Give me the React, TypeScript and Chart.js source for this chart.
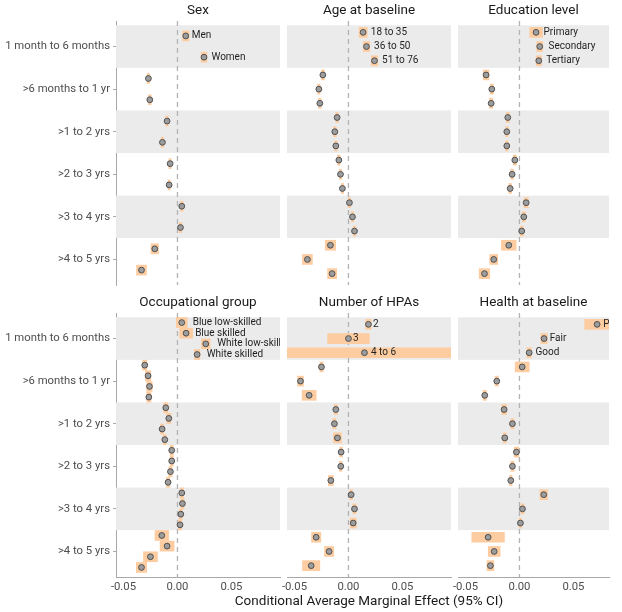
import React, { useEffect, useRef } from 'react';
import { Chart, registerables } from 'chart.js';

Chart.register(...registerables);
Chart.defaults.font.family = 'Roboto';

// Follow-up periods (rows of every facet, top to bottom)
const periods = [
  '1 month to 6 months',
  '>6 months to 1 yr',
  '>1 to 2 yrs',
  '>2 to 3 yrs',
  '>3 to 4 yrs',
  '>4 to 5 yrs',
];
const xTickValues = [-0.05, 0, 0.05];

// Sex
const sexGroups = ['Men', 'Women'];
const sexEstimates = [
  [0.0077, -0.0269, -0.0096, -0.0068, 0.004, -0.021],
  [0.0246, -0.0256, -0.0139, -0.0077, 0.0028, -0.0333],
];
const sexHalfWidths = [
  [0.003, 0.0012, 0.0012, 0.001, 0.0012, 0.0035],
  [0.0027, 0.0012, 0.0012, 0.001, 0.0012, 0.0046],
];

// Age at baseline
const ageGroups = ['18 to 35', '36 to 50', '51 to 76'];
const ageEstimates = [
  [0.0136, -0.0237, -0.0105, -0.0089, 0.0009, -0.0167],
  [0.0167, -0.0274, -0.0126, -0.0074, 0.0037, -0.038],
  [0.0241, -0.0265, -0.0117, -0.0056, 0.0056, -0.0151],
];
const ageHalfWidths = [
  [0.0037, 0.0015, 0.0012, 0.0012, 0.0012, 0.0048],
  [0.003, 0.0012, 0.0012, 0.001, 0.0012, 0.0046],
  [0.003, 0.0012, 0.0012, 0.001, 0.0012, 0.0042],
];

// Education level
const eduGroups = ['Primary', 'Secondary', 'Tertiary'];
const eduEstimates = [
  [0.0154, -0.0309, -0.0108, -0.0043, 0.0062, -0.0099],
  [0.0188, -0.0256, -0.0117, -0.0068, 0.004, -0.0238],
  [0.0179, -0.0262, -0.0117, -0.0086, 0.0021, -0.0324],
];
const eduHalfWidths = [
  [0.0059, 0.0026, 0.0015, 0.0015, 0.002, 0.0068],
  [0.0028, 0.0015, 0.0012, 0.0012, 0.0015, 0.0037],
  [0.0025, 0.0015, 0.0012, 0.0012, 0.0015, 0.0049],
];

// Occupational group
const occGroups = ['Blue low-skilled', 'Blue skilled', 'White low-skilled', 'White skilled'];
const occEstimates = [
  [0.004, -0.0303, -0.0108, -0.0053, 0.004, -0.0145],
  [0.008, -0.0272, -0.008, -0.0053, 0.0046, -0.0096],
  [0.0262, -0.0259, -0.0142, -0.0065, 0.0031, -0.025],
  [0.0182, -0.0265, -0.0117, -0.0087, 0.0024, -0.0333],
];
const occHalfWidths = [
  [0.0051, 0.002, 0.002, 0.0015, 0.0015, 0.0063],
  [0.006, 0.0025, 0.002, 0.0015, 0.0015, 0.0065],
  [0.004, 0.0025, 0.0015, 0.0015, 0.0015, 0.0065],
  [0.0026, 0.002, 0.0015, 0.0015, 0.0015, 0.0048],
];

// Number of HPAs
const hpaGroups = ['2', '3', '4 to 6'];
const hpaEstimates = [
  [0.0185, -0.025, -0.0117, -0.0068, 0.0025, -0.0299],
  [0.0, -0.0444, -0.013, -0.0071, 0.0056, -0.0179],
  [0.0148, -0.0364, -0.0102, -0.0163, 0.0044, -0.0345],
];
const hpaHalfWidths = [
  [0.0025, 0.0015, 0.0015, 0.0012, 0.0012, 0.0043],
  [0.0193, 0.0027, 0.0015, 0.0012, 0.0015, 0.0043],
  [0.11, 0.0065, 0.0037, 0.0023, 0.0028, 0.008],
];

// Health at baseline
const healthGroups = ['Poor', 'Fair', 'Good'];
const healthEstimates = [
  [0.0719, 0.0025, -0.0142, -0.0028, 0.0225, -0.029],
  [0.0228, -0.021, -0.0065, -0.0065, 0.0028, -0.0234],
  [0.009, -0.0321, -0.0136, -0.008, 0.0009, -0.0269],
];
const healthHalfWidths = [
  [0.0115, 0.0065, 0.0023, 0.0022, 0.0035, 0.0151],
  [0.003, 0.0015, 0.0015, 0.0015, 0.0015, 0.0055],
  [0.0022, 0.0015, 0.0015, 0.0012, 0.0012, 0.0032],
];

const facets = [
  { title: 'Sex', groups: sexGroups, estimates: sexEstimates, halfWidths: sexHalfWidths },
  { title: 'Age at baseline', groups: ageGroups, estimates: ageEstimates, halfWidths: ageHalfWidths },
  { title: 'Education level', groups: eduGroups, estimates: eduEstimates, halfWidths: eduHalfWidths },
  { title: 'Occupational group', groups: occGroups, estimates: occEstimates, halfWidths: occHalfWidths },
  { title: 'Number of HPAs', groups: hpaGroups, estimates: hpaEstimates, halfWidths: hpaHalfWidths },
  { title: 'Health at baseline', groups: healthGroups, estimates: healthEstimates, halfWidths: healthHalfWidths },
];

const AXIS_TITLE = 'Conditional Average Marginal Effect (95% CI)';

// Page layout: every facet gets a full-page canvas, its panel placed by layout padding
const PAGE_W = 622;
const PAGE_H = 612;
const COLUMNS: [number, number][] = [[116, 280], [287, 451], [458, 609]];
const ROWS: [number, number][] = [[21, 285], [313, 577]];
const STRIP_H = 21;
const X_AXIS_H = 35;
const X_MIN = -0.0569;
const PX_PER_UNIT = 1080;
const Y_MIN = -0.6;
const Y_MAX = 5.6;

const BAND_COLOR = '#ebebeb';
const CI_COLOR = 'rgb(253, 204, 160)';
const POINT_FILL = '#9c9c9c';
const POINT_EDGE = '#505050';
const AXIS_COLOR = '#a8a8a8';
const ZERO_COLOR = '#b3b3b3';
const TICK_TEXT = '#4d4d4d';
const TITLE_TEXT = '#1a1a1a';

// Shaded bands behind every other period
const bandsPlugin = {
  id: 'periodBands',
  beforeDatasetsDraw(chart: any) {
    const { ctx, chartArea, scales } = chart;
    const y = scales.y;
    ctx.save();
    ctx.fillStyle = BAND_COLOR;
    for (let i = 0; i < periods.length; i += 2) {
      const y0 = y.getPixelForValue(i - 0.5);
      const y1 = y.getPixelForValue(i + 0.5);
      ctx.fillRect(chartArea.left, Math.min(y0, y1), chartArea.right - chartArea.left, Math.abs(y1 - y0));
    }
    ctx.restore();
  },
};

// Group names written next to the first-period points
const groupLabelsPlugin = {
  id: 'groupLabels',
  afterDatasetsDraw(chart: any) {
    const { ctx, chartArea } = chart;
    const meta = chart.getDatasetMeta(0);
    const data = chart.data.datasets[0].data;
    ctx.save();
    ctx.beginPath();
    ctx.rect(chartArea.left, chartArea.top, chartArea.right - chartArea.left, chartArea.bottom - chartArea.top);
    ctx.clip();
    ctx.font = '10px Roboto';
    ctx.fillStyle = '#1f1f1f';
    ctx.textAlign = 'left';
    ctx.textBaseline = 'middle';
    meta.data.forEach((el: any, i: number) => {
      const label = data[i].label;
      if (!label) return;
      const w = ctx.measureText(label).width;
      ctx.fillText(label, el.x + 4 + 0.1 * w, el.y);
    });
    ctx.restore();
  },
};

// Shared x-axis title under the bottom row
const axisTitlePlugin = {
  id: 'sharedAxisTitle',
  afterDraw(chart: any) {
    const { ctx, chartArea } = chart;
    ctx.save();
    ctx.font = '13.5px Roboto';
    ctx.fillStyle = TITLE_TEXT;
    ctx.textAlign = 'center';
    ctx.textBaseline = 'middle';
    ctx.fillText(AXIS_TITLE, (chartArea.left + chartArea.right) / 2, PAGE_H - 10);
    ctx.restore();
  },
};

function buildConfig(facet: any, row: number, col: number): any {
  const [left, right] = COLUMNS[col];
  const [top, bottom] = ROWS[row];
  const isLeft = col === 0;
  const isBottom = row === 1;
  const n = facet.groups.length;

  const points: any[] = [];
  const intervals: any[] = [];
  facet.estimates.forEach((series: number[], g: number) => {
    const shift = (g - (n - 1) / 2) / n;
    series.forEach((est, p) => {
      const y = p + shift;
      const hw = facet.halfWidths[g][p];
      points.push({ x: est, y, label: p === 0 ? facet.groups[g] : '' });
      intervals.push({ y, x: [est - hw, est + hw] });
    });
  });

  const plugins: any[] = [bandsPlugin, groupLabelsPlugin];
  if (isBottom && col === 1) plugins.push(axisTitlePlugin);

  return {
    type: 'scatter',
    data: {
      datasets: [
        {
          type: 'scatter',
          data: points,
          order: 0,
          pointRadius: 2.9,
          pointBackgroundColor: POINT_FILL,
          pointBorderColor: POINT_EDGE,
          pointBorderWidth: 1,
          clip: 0,
        },
        {
          type: 'bar',
          indexAxis: 'y',
          data: intervals,
          order: 1,
          backgroundColor: CI_COLOR,
          borderWidth: 0,
          barThickness: 10,
          clip: 0,
        },
        {
          type: 'line',
          data: [{ x: 0, y: Y_MIN }, { x: 0, y: Y_MAX }],
          order: 2,
          borderColor: ZERO_COLOR,
          borderWidth: 1.3,
          borderDash: [5, 4],
          pointRadius: 0,
          clip: 0,
        },
      ],
    },
    options: {
      responsive: false,
      animation: false,
      events: [],
      layout: {
        autoPadding: false,
        padding: {
          left: isLeft ? 0 : left,
          right: PAGE_W - right,
          top: top - STRIP_H,
          bottom: isBottom ? 0 : PAGE_H - bottom,
        },
      },
      plugins: {
        legend: { display: false },
        tooltip: { enabled: false },
        title: {
          display: true,
          text: facet.title,
          fullSize: false,
          padding: { top: 2.5, bottom: 2.3 },
          font: { size: 13.5, weight: 'normal' },
          color: TITLE_TEXT,
        },
      },
      scales: {
        x: {
          type: 'linear',
          min: X_MIN,
          max: X_MIN + (right - left) / PX_PER_UNIT,
          offset: false,
          beginAtZero: false,
          display: isBottom,
          grid: { display: false, drawTicks: false, offset: false },
          border: { display: true, color: AXIS_COLOR, width: 1 },
          ticks: {
            autoSkip: false,
            maxRotation: 0,
            padding: 3.2,
            color: TICK_TEXT,
            font: { size: 11.3 },
            callback: (v: number) => Number(v).toFixed(2),
          },
          afterBuildTicks: (s: any) => {
            s.ticks = xTickValues.map((v) => ({ value: v }));
          },
          afterFit: (s: any) => {
            if (isBottom) s.height = X_AXIS_H;
            s.paddingLeft = 0;
            s.paddingRight = 0;
          },
        },
        y: {
          type: 'linear',
          reverse: true,
          min: Y_MIN,
          max: Y_MAX,
          offset: false,
          beginAtZero: false,
          display: isLeft,
          grid: {
            display: true,
            offset: false,
            drawOnChartArea: false,
            drawTicks: true,
            tickLength: 3,
            color: AXIS_COLOR,
          },
          border: { display: true, color: AXIS_COLOR, width: 1 },
          ticks: {
            autoSkip: false,
            padding: 3,
            color: TICK_TEXT,
            font: { size: 11.3 },
            callback: (v: number) => periods[v] ?? '',
          },
          afterBuildTicks: (s: any) => {
            s.ticks = periods.map((_, i) => ({ value: i }));
          },
          afterFit: (s: any) => {
            if (isLeft) s.width = left;
            s.paddingTop = 0;
            s.paddingBottom = 0;
          },
        },
      },
    },
    plugins,
  };
}

function FacetPanel({ facet, row, col }: { facet: any; row: number; col: number }) {
  const ref = useRef<HTMLCanvasElement>(null);
  useEffect(() => {
    const chart = new Chart(ref.current as HTMLCanvasElement, buildConfig(facet, row, col));
    return () => chart.destroy();
  }, [facet, row, col]);
  return (
    <canvas
      ref={ref}
      width={PAGE_W}
      height={PAGE_H}
      style={{ position: 'absolute', left: 0, top: 0, width: PAGE_W, height: PAGE_H }}
    />
  );
}

export default function App() {
  return (
    <div
      style={{
        position: 'absolute',
        left: 0,
        top: 0,
        width: PAGE_W,
        height: PAGE_H,
        background: '#ffffff',
        overflow: 'hidden',
      }}
    >
      {facets.map((f, i) => (
        <FacetPanel key={f.title} facet={f} row={Math.floor(i / 3)} col={i % 3} />
      ))}
    </div>
  );
}
